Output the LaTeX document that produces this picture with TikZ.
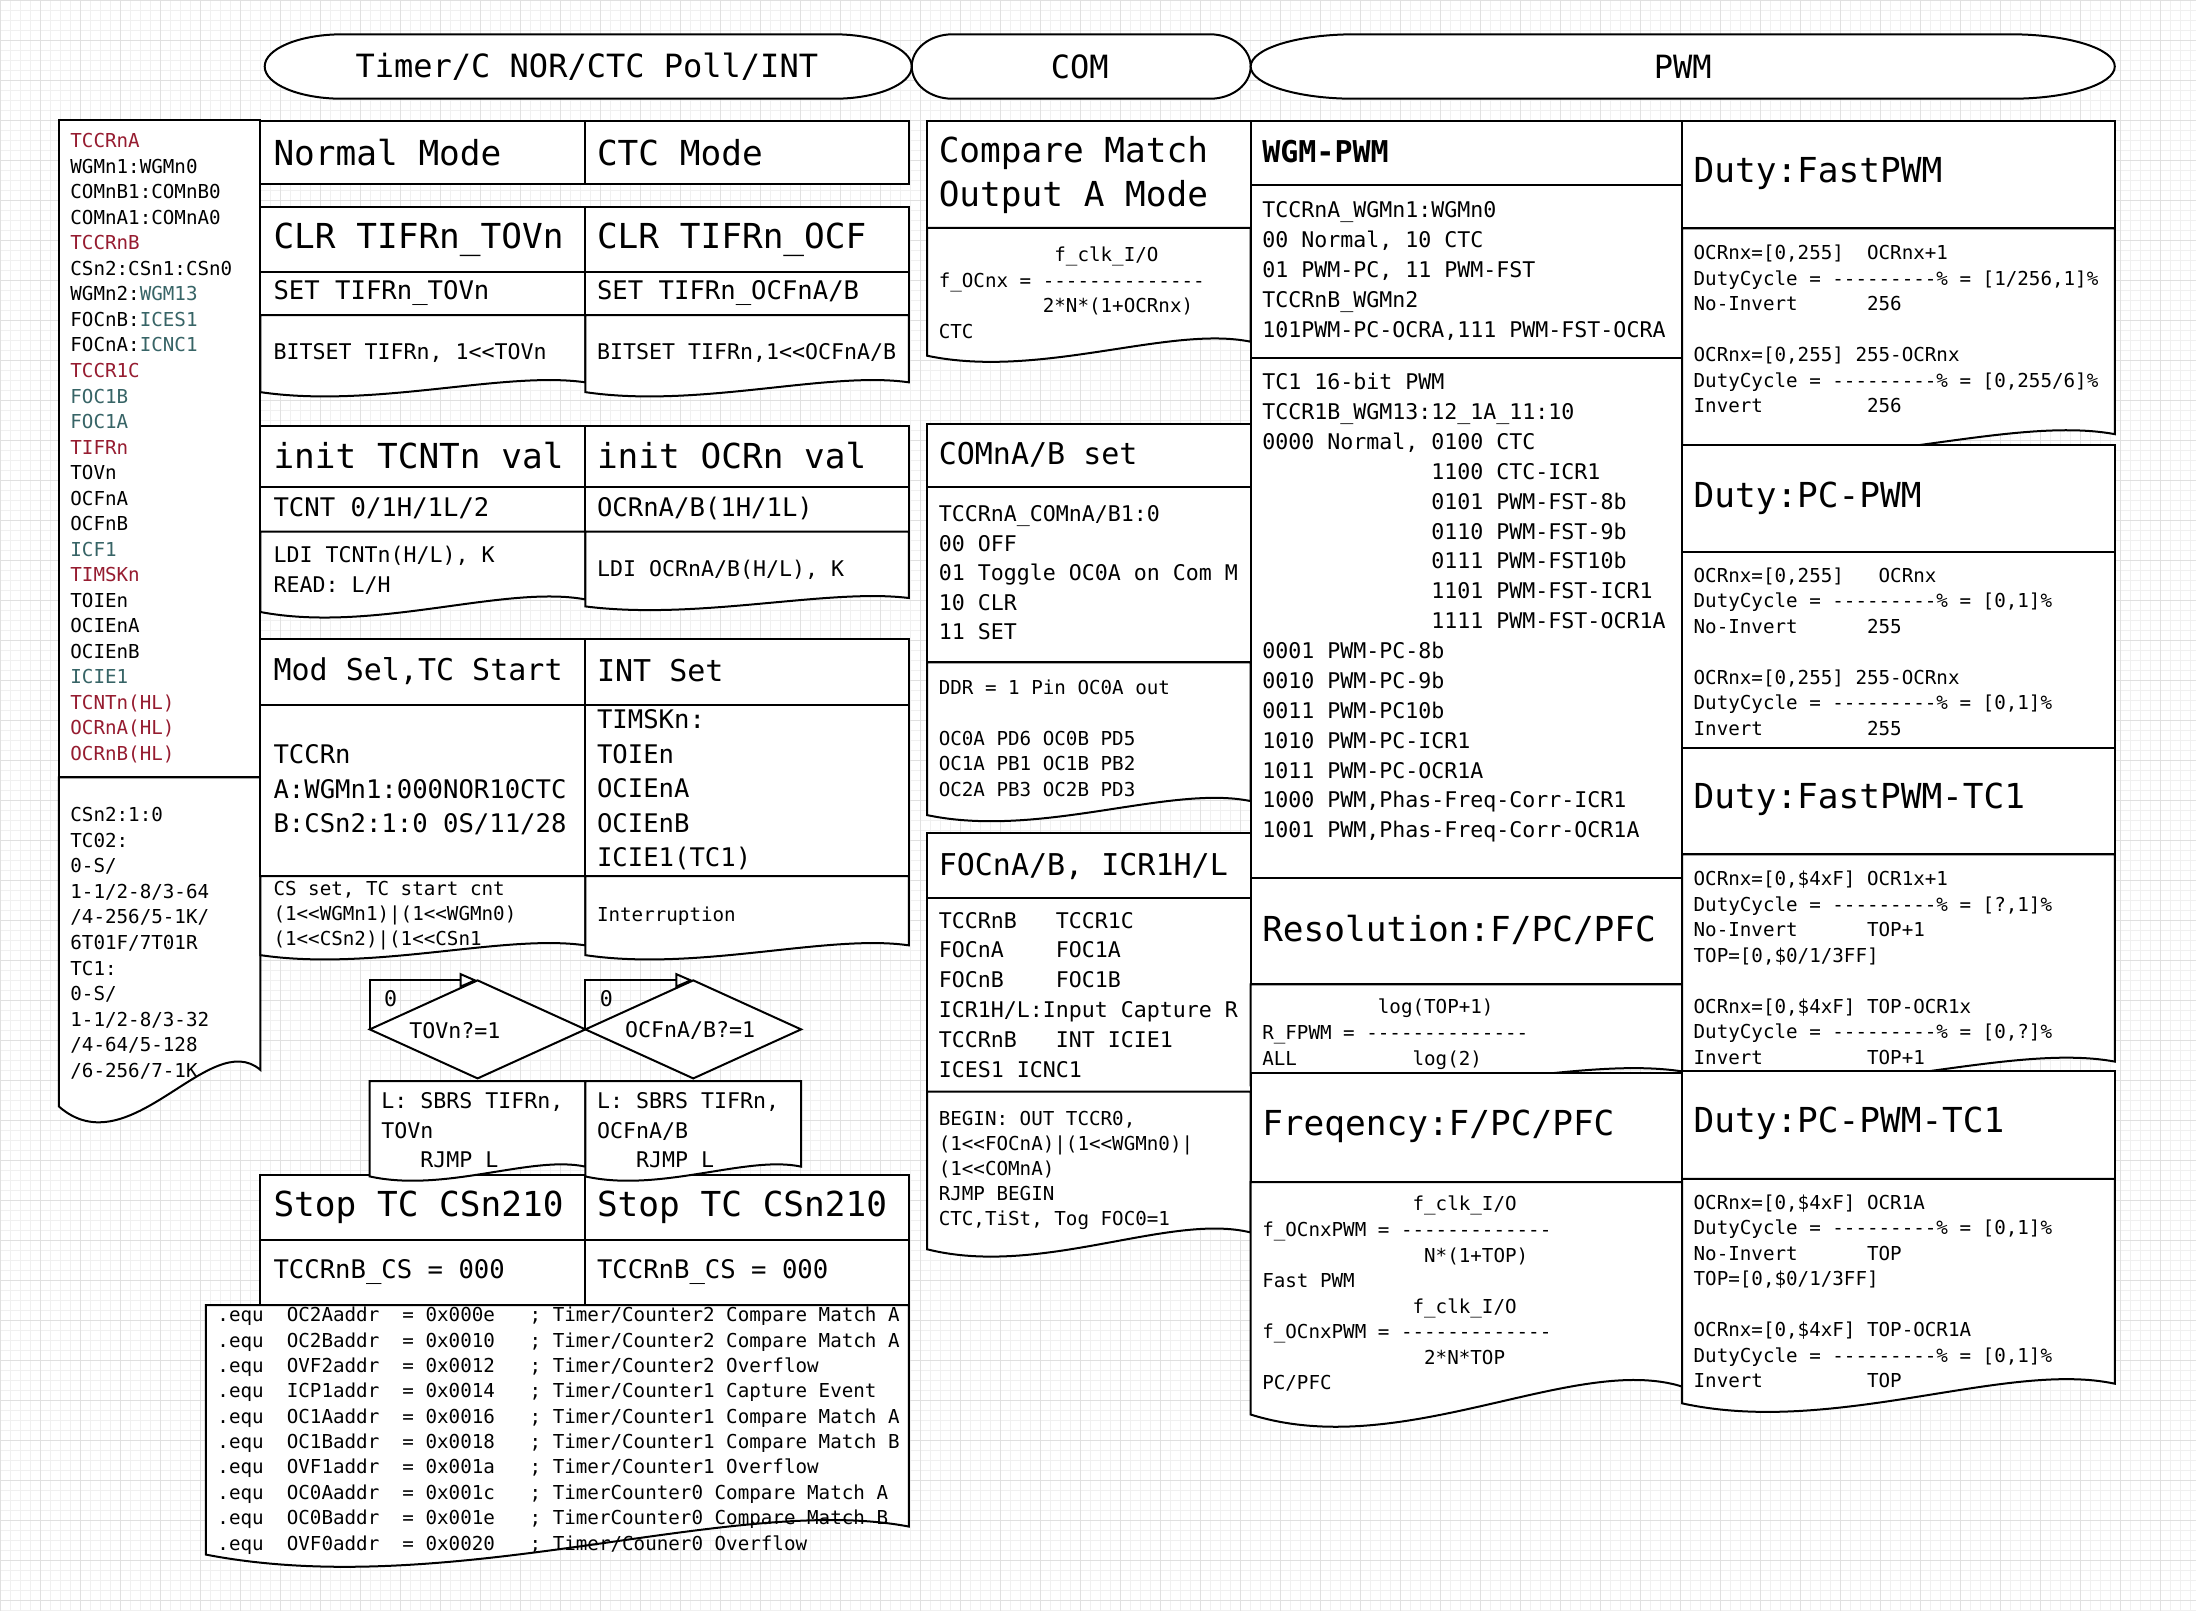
\documentclass[tikz,border=0pt]{standalone}
\usepackage{fontspec}
\setmonofont{DejaVu Sans Mono}
\usetikzlibrary{arrows.meta,shapes.geometric}
\definecolor{regred}{RGB}{150,28,48}
\definecolor{regteal}{RGB}{55,100,102}
\newcommand{\redreg}[1]{\textcolor{regred}{#1}}
\newcommand{\tealreg}[1]{\textcolor{regteal}{#1}}
\newcommand{\wgmind}{\phantom{0000~Normal,~}}
\newcommand{\docshape}[5]{%
  \draw[cellbox] (#1,#4) -- (#1,#3) -- (#2,#3) -- (#2,{#4-#5})
    .. controls ({#2-0.25*(#2-#1)},{#4-2.2*#5}) and ({#1+0.35*(#2-#1)},{#4+1.7*#5}) .. (#1,#4) -- cycle;}
\newcommand{\termshape}[4]{%
  \pgfmathsetmacro{\termrx}{0.12*(#2-#1)}%
  \pgfmathsetmacro{\termry}{(#4-#3)/2}%
  \pgfmathsetmacro{\termym}{(#3+#4)/2}%
  \draw[termbox] ({#1+\termrx},#3) -- ({#2-\termrx},#3)
    .. controls ({#2-0.448*\termrx},#3) and (#2,{\termym-0.552*\termry}) .. (#2,\termym)
    .. controls (#2,{\termym+0.552*\termry}) and ({#2-0.448*\termrx},#4) .. ({#2-\termrx},#4)
    -- ({#1+\termrx},#4)
    .. controls ({#1+0.448*\termrx},#4) and (#1,{\termym+0.552*\termry}) .. (#1,\termym)
    .. controls (#1,{\termym-0.552*\termry}) and ({#1+0.448*\termrx},#3) .. ({#1+\termrx},#3) -- cycle;}
\tikzset{
  cellbox/.style={draw=black,line width=1pt,fill=white},
  termbox/.style={draw=black,line width=1pt,fill=white},
  gridmin/.style={draw=black!6,line width=0.25pt},
  gridmaj/.style={draw=black!12,line width=0.35pt},
  hdrtxt/.style={inner sep=0pt,font=\ttfamily\fontsize{16}{19}\selectfont},
  hugetxt/.style={anchor=west,inner sep=0pt,align=left,font=\ttfamily\fontsize{17.2}{22.3}\selectfont},
  bigtxt/.style={anchor=west,inner sep=0pt,align=left,font=\ttfamily\fontsize{15}{18}\selectfont},
  medtxt/.style={anchor=west,inner sep=0pt,align=left,font=\ttfamily\fontsize{12.8}{17.3}\selectfont},
  smltxt/.style={anchor=west,inner sep=0pt,align=left,font=\ttfamily\fontsize{10.8}{14.9}\selectfont},
  tnytxt/.style={anchor=west,inner sep=0pt,align=left,font=\ttfamily\fontsize{9.6}{12.75}\selectfont},
  decision/.style={diamond,draw=black,line width=1pt,fill=white,inner sep=0pt,outer sep=0pt,minimum width=107.8pt,minimum height=49pt},
  loopback/.style={line width=1pt,-{Triangle[open,length=9pt,width=7.5pt]}}
}
\begin{document}
\begin{tikzpicture}[x=0.7pt,y=-0.7pt]
  \fill[white] (0,0) rectangle (1568,1150);
  \useasboundingbox (0,0) rectangle (1568,1150);
  \foreach \gi in {0,...,219} \draw[gridmin] ({\gi*7.14},0) -- ({\gi*7.14},1150);
  \foreach \gi in {0,...,161} \draw[gridmin] (0,{\gi*7.14}) -- (1568,{\gi*7.14});
  \foreach \gi in {0,...,54} \draw[gridmaj] ({\gi*28.56},0) -- ({\gi*28.56},1150);
  \foreach \gi in {0,...,40} \draw[gridmaj] (0,{\gi*28.56}) -- (1568,{\gi*28.56});

  \termshape{189}{651}{24.5}{70.5}
  \termshape{651}{893}{24.5}{70.5}
  \termshape{893}{1510}{24.5}{70.5}
  \node[hdrtxt] (tmrhdr) at (419,47.5) {Timer/C NOR/CTC Poll/INT};
  \node[hdrtxt] (comhdr) at (771,47.5) {COM};
  \node[hdrtxt] (pwmhdr) at (1201.5,47.5) {PWM};

  \draw[cellbox] (42,86) rectangle (186,555);
  \docshape{42}{186}{555}{790}{26}
  \node[tnytxt] (regbits) at (50,320) {\redreg{TCCRnA}\\WGMn1:WGMn0\\COMnB1:COMnB0\\COMnA1:COMnA0\\\redreg{TCCRnB}\\CSn2:CSn1:CSn0\\WGMn2:\tealreg{WGM13}\\FOCnB:\tealreg{ICES1}\\FOCnA:\tealreg{ICNC1}\\\redreg{TCCR1C}\\\tealreg{FOC1B}\\\tealreg{FOC1A}\\\redreg{TIFRn}\\TOVn\\OCFnA\\OCFnB\\\tealreg{ICF1}\\\redreg{TIMSKn}\\TOIEn\\OCIEnA\\OCIEnB\\\tealreg{ICIE1}\\\redreg{TCNTn(HL)}\\\redreg{OCRnA(HL)}\\\redreg{OCRnB(HL)}};
  \node[tnytxt] (prescale) at (50,673.5) {CSn2:1:0\\TC02:\\0-S/\\1-1/2-8/3-64\\/4-256/5-1K/\\6T01F/7T01R\\TC1:\\0-S/\\1-1/2-8/3-32\\/4-64/5-128\\/6-256/7-1K};

  \draw[cellbox] (186,86.5) rectangle (418,131.5);
  \draw[cellbox] (418,86.5) rectangle (649,131.5);
  \node[hugetxt] (normal) at (195,109) {Normal Mode};
  \node[hugetxt] (ctc) at (426,109) {CTC Mode};

  \draw[cellbox] (186,148) rectangle (418,194);
  \draw[cellbox] (418,148) rectangle (649,194);
  \draw[cellbox] (186,194) rectangle (418,225);
  \draw[cellbox] (418,194) rectangle (649,225);
  \docshape{186}{418}{225}{280}{7}
  \docshape{418}{649}{225}{280}{7}
  \node[hugetxt] (clrtov) at (195,171) {CLR TIFRn\_TOVn};
  \node[hugetxt] (clrocf) at (426,171) {CLR TIFRn\_OCF};
  \node[medtxt] (settov) at (195,209.5) {SET TIFRn\_TOVn};
  \node[medtxt] (setocf) at (426,209.5) {SET TIFRn\_OCFnA/B};
  \node[smltxt] (bittov) at (195,252) {BITSET TIFRn, 1<<TOVn};
  \node[smltxt] (bitocf) at (426,252) {BITSET TIFRn,1<<OCFnA/B};

  \draw[cellbox] (186,304) rectangle (418,347.6);
  \draw[cellbox] (418,304) rectangle (649,347.6);
  \draw[cellbox] (186,347.6) rectangle (418,379.5);
  \draw[cellbox] (418,347.6) rectangle (649,379.5);
  \docshape{186}{418}{379.5}{437}{9}
  \docshape{418}{649}{379.5}{433}{6}
  \node[hugetxt] (inittcnt) at (195,325) {init TCNTn val};
  \node[hugetxt] (initocr) at (426,325) {init OCRn val};
  \node[medtxt] (tcntreg) at (195,363) {TCNT 0/1H/1L/2};
  \node[medtxt] (ocrreg) at (426,363) {OCRnA/B(1H/1L)};
  \node[smltxt,font=\ttfamily\fontsize{10.8}{15.2}\selectfont] (lditcnt) at (195,407) {LDI TCNTn(H/L), K\\READ: L/H};
  \node[smltxt] (ldiocr) at (426,407) {LDI OCRnA/B(H/L), K};

  \draw[cellbox] (186,456) rectangle (418,503.6);
  \draw[cellbox] (418,456) rectangle (649,503.6);
  \draw[cellbox] (186,503.6) rectangle (418,625.5);
  \draw[cellbox] (418,503.6) rectangle (649,625.5);
  \docshape{186}{418}{625.5}{682}{7}
  \docshape{418}{649}{625.5}{682}{7}
  \node[bigtxt] (modsel) at (195,479) {Mod Sel,TC Start};
  \node[bigtxt] (intset) at (426,479) {INT Set};
  \node[medtxt] (tccrn) at (195,564) {TCCRn\\A:WGMn1:000NOR10CTC\\B:CSn2:1:0 0S/11/28};
  \node[medtxt] (timsk) at (426,564) {TIMSKn:\\TOIEn\\OCIEnA\\OCIEnB\\ICIE1(TC1)};
  \node[tnytxt,font=\ttfamily\fontsize{9.6}{12.5}\selectfont] (csset) at (195,654) {CS set, TC start cnt\\(1<<WGMn1)|(1<<WGMn0)\\(1<<CSn2)|(1<<CSn1};
  \node[tnytxt] (intr) at (426,654) {Interruption};

  \node[decision] (tovq) at (341,735) {};
  \node[decision] (ocfq) at (495,735) {};
  \draw[loopback] (tovq.west) |- (tovq.north);
  \draw[loopback] (ocfq.west) |- (ocfq.north);
  \node[smltxt] (tovzero) at (274,713) {0};
  \node[smltxt] (ocfzero) at (428,713) {0};
  \node[smltxt] (tovqtxt) at (292,736) {TOVn?=1};
  \node[smltxt] (ocfqtxt) at (446,736) {OCFnA/B?=1};

  \draw[cellbox] (186,839) rectangle (418,885.4);
  \draw[cellbox] (418,839) rectangle (649,885.4);
  \draw[cellbox] (186,885.4) rectangle (418,931.8);
  \draw[cellbox] (418,885.4) rectangle (649,931.8);
  \node[hugetxt] (stopl) at (195,862) {Stop TC CSn210};
  \node[hugetxt] (stopr) at (426,862) {Stop TC CSn210};
  \node[medtxt] (csl) at (195,908.5) {TCCRnB\_CS = 000};
  \node[medtxt] (csr) at (426,908.5) {TCCRnB\_CS = 000};

  \docshape{264}{418}{772}{840}{7}
  \docshape{418}{572}{772}{840}{7}
  \node[smltxt,font=\ttfamily\fontsize{10.8}{14.7}\selectfont] (sbrstov) at (272,807) {L: SBRS TIFRn,\\TOVn\\~~~RJMP L};
  \node[smltxt,font=\ttfamily\fontsize{10.8}{14.7}\selectfont] (sbrsocf) at (426,807) {L: SBRS TIFRn,\\OCFnA/B\\~~~RJMP L};

  \docshape{147}{649}{931.8}{1110}{20}
  \node[tnytxt,font=\ttfamily\fontsize{9.6}{12.67}\selectfont] (vectors) at (155,1021.5) {.equ~~OC2Aaddr~~=~0x000e~~~;~Timer/Counter2 Compare Match A\\.equ~~OC2Baddr~~=~0x0010~~~;~Timer/Counter2 Compare Match A\\.equ~~OVF2addr~~=~0x0012~~~;~Timer/Counter2 Overflow\\.equ~~ICP1addr~~=~0x0014~~~;~Timer/Counter1 Capture Event\\.equ~~OC1Aaddr~~=~0x0016~~~;~Timer/Counter1 Compare Match A\\.equ~~OC1Baddr~~=~0x0018~~~;~Timer/Counter1 Compare Match B\\.equ~~OVF1addr~~=~0x001a~~~;~Timer/Counter1 Overflow\\.equ~~OC0Aaddr~~=~0x001c~~~;~TimerCounter0 Compare Match A\\.equ~~OC0Baddr~~=~0x001e~~~;~TimerCounter0 Compare Match B\\.equ~~OVF0addr~~=~0x0020~~~;~Timer/Couner0 Overflow};

  \draw[cellbox] (662,86.2) rectangle (893,162.7);
  \docshape{662}{893}{162.7}{254}{10}
  \node[hugetxt] (cmtitle) at (670,125) {Compare Match\\Output A Mode};
  \node[tnytxt,font=\ttfamily\fontsize{9.6}{12.8}\selectfont] (focnx) at (670,209) {~~~~~~~~~~f\_clk\_I/O\\f\_OCnx = --------------\\~~~~~~~~~2*N*(1+OCRnx)\\CTC};

  \draw[cellbox] (662,302.4) rectangle (893,347.6);
  \draw[cellbox] (662,347.6) rectangle (893,473);
  \docshape{662}{893}{473}{582}{10}
  \node[bigtxt] (comset) at (670,325) {COMnA/B set};
  \node[smltxt,font=\ttfamily\fontsize{10.8}{14.8}\selectfont] (commode) at (670,409) {TCCRnA\_COMnA/B1:0\\00 OFF\\01 Toggle OC0A on Com M\\10 CLR\\11 SET};
  \node[tnytxt] (pins) at (670,527) {DDR = 1 Pin OC0A out\\[12.75pt]OC0A PD6 OC0B PD5\\OC1A PB1 OC1B PB2\\OC2A PB3 OC2B PD3};

  \draw[cellbox] (662,595) rectangle (893,641.4);
  \draw[cellbox] (662,641.4) rectangle (893,779.5);
  \docshape{662}{893}{779.5}{892}{12}
  \node[bigtxt] (focicr) at (670,618.5) {FOCnA/B, ICR1H/L};
  \node[smltxt] (focreg) at (670,710.3) {TCCRnB~~~TCCR1C\\FOCnA~~~~FOC1A\\FOCnB~~~~FOC1B\\ICR1H/L:Input Capture R\\TCCRnB~~~INT ICIE1\\ICES1 ICNC1};
  \node[tnytxt,font=\ttfamily\fontsize{9.6}{12.5}\selectfont] (focprog) at (670,835.5) {BEGIN: OUT TCCR0,\\(1<<FOCnA)|(1<<WGMn0)|\\(1<<COMnA)\\RJMP BEGIN\\CTC,TiSt, Tog FOC0=1};

  \draw[cellbox] (893,86.5) rectangle (1201,132);
  \draw[cellbox] (893,132) rectangle (1201,255.8);
  \draw[cellbox] (893,255.8) rectangle (1201,627);
  \node[bigtxt,font=\ttfamily\bfseries\fontsize{15}{18}\selectfont] (wgmtitle) at (901,108.5) {WGM-PWM};
  \node[smltxt,font=\ttfamily\fontsize{10.8}{14.96}\selectfont] (wgm8) at (901,193.3) {TCCRnA\_WGMn1:WGMn0\\00 Normal, 10 CTC\\01 PWM-PC, 11 PWM-FST\\TCCRnB\_WGMn2\\101PWM-PC-OCRA,111 PWM-FST-OCRA};
  \node[smltxt,font=\ttfamily\fontsize{10.8}{14.93}\selectfont] (wgm16) at (901,434) {TC1 16-bit PWM\\TCCR1B\_WGM13:12\_1A\_11:10\\0000 Normal, 0100 CTC\\\wgmind 1100 CTC-ICR1\\\wgmind 0101 PWM-FST-8b\\\wgmind 0110 PWM-FST-9b\\\wgmind 0111 PWM-FST10b\\\wgmind 1101 PWM-FST-ICR1\\\wgmind 1111 PWM-FST-OCR1A\\0001 PWM-PC-8b\\0010 PWM-PC-9b\\0011 PWM-PC10b\\1010 PWM-PC-ICR1\\1011 PWM-PC-OCR1A\\1000 PWM,Phas-Freq-Corr-ICR1\\1001 PWM,Phas-Freq-Corr-OCR1A};

  \draw[cellbox] (893,627) rectangle (1201,702.8);
  \docshape{893}{1201}{702.8}{775}{10}
  \node[hugetxt] (restitle) at (901,664) {Resolution:F/PC/PFC};
  \node[tnytxt,font=\ttfamily\fontsize{9.6}{12.95}\selectfont] (resf) at (901,738.5) {~~~~~~~~~~log(TOP+1)\\R\_FPWM = --------------\\ALL~~~~~~~~~~log(2)};

  \draw[cellbox] (893,766.3) rectangle (1201,844);
  \docshape{893}{1201}{844}{1010}{20}
  \node[hugetxt] (freqtitle) at (901,804) {Freqency:F/PC/PFC};
  \node[tnytxt] (freqf) at (901,923.8) {~~~~~~~~~~~~~f\_clk\_I/O\\f\_OCnxPWM = -------------\\~~~~~~~~~~~~~~N*(1+TOP)\\Fast PWM\\~~~~~~~~~~~~~f\_clk\_I/O\\f\_OCnxPWM = -------------\\~~~~~~~~~~~~~~2*N*TOP\\PC/PFC};

  \draw[cellbox] (1201,86.7) rectangle (1510,163);
  \docshape{1201}{1510}{163}{322}{12}
  \node[hugetxt] (dfast) at (1209,124) {Duty:FastPWM};
  \node[tnytxt] (dfastf) at (1209,235) {OCRnx=[0,255]~~OCRnx+1\\DutyCycle = ---------\% = [1/256,1]\%\\No-Invert~~~~~~256\\[12.75pt]OCRnx=[0,255] 255-OCRnx\\DutyCycle = ---------\% = [0,255/6]\%\\Invert~~~~~~~~~256};

  \draw[cellbox] (1201,317.5) rectangle (1510,394);
  \draw[cellbox] (1201,394) rectangle (1510,533.8);
  \node[hugetxt] (dpc) at (1209,355.5) {Duty:PC-PWM};
  \node[tnytxt] (dpcf) at (1209,465.4) {OCRnx=[0,255]~~~OCRnx\\DutyCycle = ---------\% = [0,1]\%\\No-Invert~~~~~~255\\[12.75pt]OCRnx=[0,255] 255-OCRnx\\DutyCycle = ---------\% = [0,1]\%\\Invert~~~~~~~~~255};

  \draw[cellbox] (1201,533.8) rectangle (1510,610);
  \docshape{1201}{1510}{610}{770}{12}
  \node[hugetxt] (dfast1) at (1209,571) {Duty:FastPWM-TC1};
  \node[tnytxt] (dfast1f) at (1209,691) {OCRnx=[0,\$4xF] OCR1x+1\\DutyCycle = ---------\% = [?,1]\%\\No-Invert~~~~~~TOP+1\\TOP=[0,\$0/1/3FF]\\[12.75pt]OCRnx=[0,\$4xF] TOP-OCR1x\\DutyCycle = ---------\% = [0,?]\%\\Invert~~~~~~~~~TOP+1};

  \draw[cellbox] (1201,765) rectangle (1510,841.8);
  \docshape{1201}{1510}{841.8}{1002}{14}
  \node[hugetxt] (dpc1) at (1209,802) {Duty:PC-PWM-TC1};
  \node[tnytxt] (dpc1f) at (1209,922) {OCRnx=[0,\$4xF] OCR1A\\DutyCycle = ---------\% = [0,1]\%\\No-Invert~~~~~~TOP\\TOP=[0,\$0/1/3FF]\\[12.75pt]OCRnx=[0,\$4xF] TOP-OCR1A\\DutyCycle = ---------\% = [0,1]\%\\Invert~~~~~~~~~TOP};
\end{tikzpicture}
\end{document}
